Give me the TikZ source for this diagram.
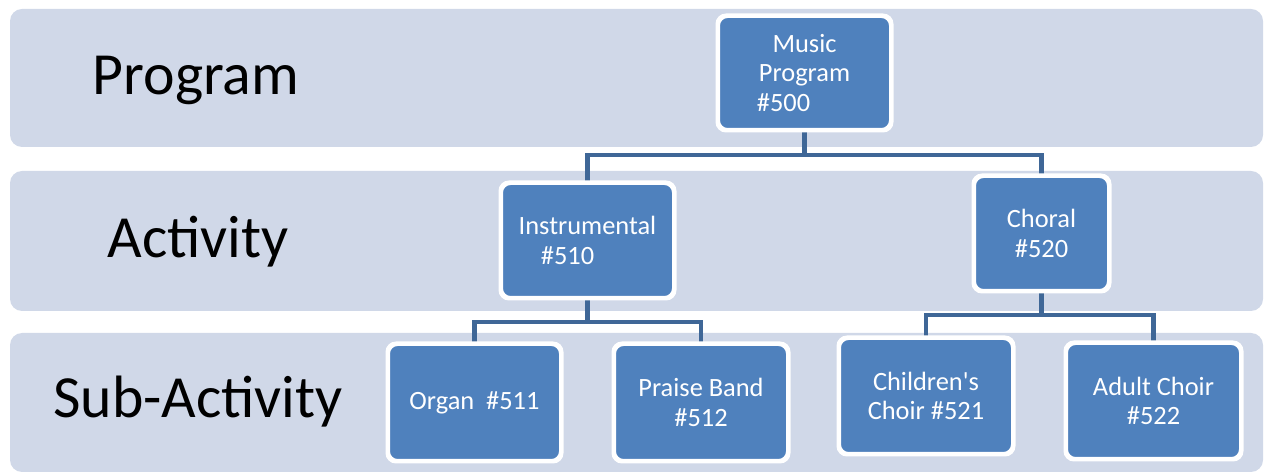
\documentclass[tikz,border=0pt]{standalone}
\usepackage{fontspec}
\setmainfont{Carlito}[Ligatures=TeXOff]
\definecolor{bandfill}{HTML}{D0D8E8}
\definecolor{boxfill}{HTML}{4F81BD}
\definecolor{connc}{HTML}{3F6797}
\tikzset{
  band/.style={fill=bandfill, draw=none, rounded corners=12bp},
  orgbox/.style={draw=white, line width=3bp, fill=boxfill, rounded corners=9bp,
    text=white, align=center, inner sep=0pt,
    font=\fontsize{26.5}{29.5}\selectfont},
  levellabel/.style={anchor=base, inner sep=0pt, font=\fontsize{60}{70}\selectfont},
  conn/.style={draw=connc, line width=4.5bp},
  boxedge/.style={draw=white, line width=3bp, rounded corners=9bp},
}
\begin{document}
\begin{tikzpicture}[x=1bp,y=-1bp]
\useasboundingbox (0,0) rectangle (1267,474);
% bands
\path[band] (10,9) rectangle (1263,147);
\path[band] (10,171) rectangle (1263,311);
\path[band] (10,333) rectangle (1263,472);
% level labels
\node[levellabel] (lprog) at (196,95) {Program};
\node[levellabel] (lact) at (198,258) {Activity};
\node[levellabel] (lsub) at (198,418) {Sub-Activity};
% boxes
\node[orgbox, minimum width=172bp, minimum height=113bp] (music) at (804.5,73) {Music\\Program\\\#500\hspace*{42bp}};
\node[orgbox, minimum width=172bp, minimum height=114bp] (instr) at (587.5,240.5) {Instrumental\\\#510\hspace*{40bp}};
\node[orgbox, minimum width=134bp, minimum height=114bp] (choral) at (1041.5,233.5) {Choral\\\#520};
\node[orgbox, minimum width=172bp, minimum height=116bp] (organ) at (474.5,402.5) {Organ\ \ \#511};
\node[orgbox, minimum width=173bp, minimum height=116bp] (praise) at (701,402.5) {Praise Band\\\#512};
\node[orgbox, minimum width=173bp, minimum height=115bp] (child) at (926,396) {Children's\\Choir \#521};
\node[orgbox, minimum width=174bp, minimum height=115bp] (adult) at (1153.5,401) {Adult Choir\\\#522};
% connectors
\draw[conn] (music.south) -- ++(0,24) -| (instr.north);
\draw[conn] (music.south) -- ++(0,24) -| (choral.north);
\draw[conn] (instr.south) -- ++(0,23) -| (organ.north);
\draw[conn] (instr.south) -- ++(0,23) -| (praise.north);
\draw[conn] (choral.south) -- ++(0,23) -| (child.north);
\draw[conn] (choral.south) -- ++(0,23) -| (adult.north);
% redraw box borders over connector ends
\foreach \n in {music,instr,choral,organ,praise,child,adult}{
  \path[boxedge] (\n.north west) rectangle (\n.south east);
}
\end{tikzpicture}
\end{document}
